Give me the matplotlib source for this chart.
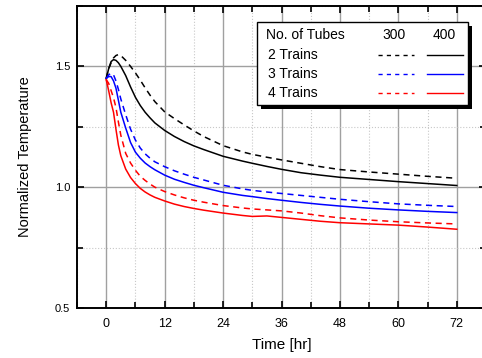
import matplotlib
matplotlib.use('Agg')
import matplotlib.pyplot as plt
import matplotlib.ticker as ticker
from matplotlib.patches import Rectangle
from matplotlib.lines import Line2D

plt.rcParams['font.family'] = ['Liberation Sans', 'DejaVu Sans']

# time axis [hr]
time_hr = [0, 0.5, 1, 1.5, 2, 2.5, 3, 4, 5, 6, 7, 8, 9, 10, 12, 14, 16, 18, 20,
           24, 28, 30, 33, 36, 40, 44, 48, 54, 60, 66, 72]

# normalized temperature, 2 trains
t2_300 = [1.45, 1.49, 1.515, 1.535, 1.545, 1.549, 1.545, 1.525, 1.50, 1.473, 1.443,
          1.411, 1.381, 1.354, 1.312, 1.284, 1.258, 1.233, 1.21, 1.172, 1.146, 1.136,
          1.124, 1.113, 1.099, 1.085, 1.073, 1.063, 1.054, 1.045, 1.037]
t2_400 = [1.45, 1.49, 1.52, 1.528, 1.525, 1.515, 1.50, 1.462, 1.415, 1.372, 1.338,
          1.310, 1.287, 1.266, 1.235, 1.21, 1.189, 1.171, 1.156, 1.128, 1.108, 1.099,
          1.086, 1.074, 1.06, 1.05, 1.041, 1.032, 1.023, 1.015, 1.007]
# 3 trains
t3_300 = [1.45, 1.465, 1.472, 1.465, 1.44, 1.405, 1.365, 1.30, 1.24, 1.195, 1.162,
          1.138, 1.12, 1.105, 1.085, 1.068, 1.054, 1.041, 1.03, 1.008, 0.993, 0.987,
          0.98, 0.974, 0.966, 0.958, 0.95, 0.94, 0.931, 0.925, 0.92]
t3_400 = [1.45, 1.458, 1.458, 1.44, 1.41, 1.36, 1.31, 1.245, 1.185, 1.145, 1.12,
          1.10, 1.085, 1.072, 1.05, 1.033, 1.02, 1.008, 0.998, 0.979, 0.966, 0.961,
          0.953, 0.946, 0.937, 0.929, 0.922, 0.913, 0.906, 0.90, 0.895]
# 4 trains
t4_300 = [1.445, 1.43, 1.40, 1.37, 1.33, 1.27, 1.215, 1.14, 1.10, 1.07, 1.045,
          1.028, 1.013, 1.0, 0.982, 0.968, 0.956, 0.946, 0.938, 0.924, 0.914, 0.91,
          0.906, 0.902, 0.893, 0.882, 0.873, 0.864, 0.857, 0.852, 0.848]
t4_400 = [1.445, 1.40, 1.35, 1.31, 1.24, 1.175, 1.13, 1.075, 1.04, 1.015, 0.995,
          0.98, 0.968, 0.958, 0.943, 0.93, 0.92, 0.912, 0.905, 0.893, 0.883, 0.879,
          0.881, 0.875, 0.867, 0.859, 0.853, 0.848, 0.843, 0.835, 0.826]

series = [("2 Trains", "black", t2_300, t2_400),
          ("3 Trains", "blue", t3_300, t3_400),
          ("4 Trains", "red", t4_300, t4_400)]

W, H = 482, 358
fig = plt.figure(figsize=(W / 100, H / 100), dpi=100)
ax = fig.add_axes([77 / W, 50 / H, 409 / W, 302 / H])

for name, col, d300, d400 in series:
    ax.plot(time_hr, d300, color=col, lw=1.1, ls=(0, (4, 3)))
    ax.plot(time_hr, d400, color=col, lw=1.1)

ax.set_xlim(-6, 78)
ax.set_ylim(0.5, 1.75)
ax.xaxis.set_major_locator(ticker.MultipleLocator(12))
ax.xaxis.set_minor_locator(ticker.MultipleLocator(6))
ax.yaxis.set_major_locator(ticker.MultipleLocator(0.5))
ax.yaxis.set_minor_locator(ticker.MultipleLocator(0.25))
ax.yaxis.set_major_formatter(ticker.FormatStrFormatter('%.1f'))

ax.grid(True, which='major', color='#a0a0a0', lw=1.0)
ax.grid(True, which='minor', color='#c8c8c8', lw=0.8, ls=':')
ax.set_axisbelow(True)

ax.tick_params(which='both', direction='in', top=True, right=True, width=1.2, color='black')
ax.tick_params(which='major', length=5)
ax.tick_params(which='minor', length=4)
ax.tick_params(axis='x', labelsize=9, pad=7)
ax.tick_params(axis='y', labelsize=8, pad=5)
for s in ax.spines.values():
    s.set_linewidth(1.4)

ax.set_xlabel('Time [hr]', fontsize=11, labelpad=6)
ax.set_ylabel('Normalized Temperature', fontsize=10.5, labelpad=16)


# legend table drawn in figure pixels (y measured from top)
def fx(px):
    return px / W


def fy(py):
    return 1 - py / H


tf = fig.transFigure
fig.patches.append(Rectangle((fx(261), fy(109)), fx(468) - fx(257), fy(22) - fy(105),
                             transform=tf, facecolor='black', edgecolor='none', zorder=5))
fig.patches.append(Rectangle((fx(257), fy(105)), fx(468) - fx(257), fy(22) - fy(105),
                             transform=tf, facecolor='white', edgecolor='black', lw=1.0, zorder=6))

fig.text(fx(266), fy(35), 'No. of Tubes', fontsize=10, va='center', zorder=7)
fig.text(fx(394), fy(35), '300', fontsize=10, va='center', ha='center', zorder=7)
fig.text(fx(444), fy(35), '400', fontsize=10, va='center', ha='center', zorder=7)
rows_y = [55, 74, 93]
for (name, col, d300, d400), ry in zip(series, rows_y):
    fig.text(fx(268), fy(ry), name, fontsize=10, va='center', zorder=7)
    fig.lines.append(Line2D([fx(378), fx(414)], [fy(ry), fy(ry)], transform=tf,
                            color=col, lw=1.0, ls=(0, (3, 3)), zorder=7))
    fig.lines.append(Line2D([fx(427), fx(463)], [fy(ry), fy(ry)], transform=tf,
                            color=col, lw=1.0, zorder=7))

fig.savefig('out.png', dpi=100)
